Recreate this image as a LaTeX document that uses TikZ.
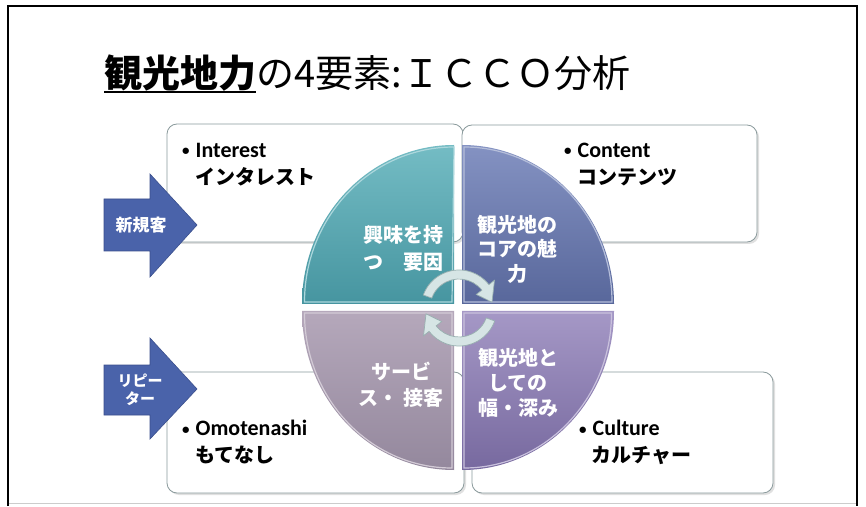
\documentclass[tikz,border=0pt]{standalone}
\usepackage{fontspec}
\setmainfont{Carlito}
\newfontfamily\jp{Noto Sans CJK JP}
\usetikzlibrary{calc}
\definecolor{arrowblue}{HTML}{4A63AA}
\definecolor{arrowedge}{HTML}{3A4F8C}
\definecolor{tealA}{HTML}{74BCC4}
\definecolor{tealB}{HTML}{4695A0}
\definecolor{blueA}{HTML}{8492C2}
\definecolor{blueB}{HTML}{58679B}
\definecolor{mauveA}{HTML}{B5A8BB}
\definecolor{mauveB}{HTML}{94889D}
\definecolor{purpA}{HTML}{A598C6}
\definecolor{purpB}{HTML}{77699F}
\definecolor{boxline}{HTML}{8A9A9C}
\definecolor{ringfill}{HTML}{D6E5E5}
\definecolor{ringline}{HTML}{98B0B0}
\newcommand{\blt}{\raisebox{1.5pt}{\fontsize{15}{15}\selectfont •}\hspace{6pt}}
\tikzset{
  infobox/.style={draw=boxline, fill=white, rounded corners=10pt, line width=0.8pt, inner sep=0pt},
  boxshadow/.style={fill=black!12, rounded corners=10pt},
  latintext/.style={font=\bfseries\fontsize{22}{26}\selectfont, inner sep=0pt, anchor=west},
  jptext/.style={font=\jp\bfseries\fontsize{20}{24}\selectfont, inner sep=0pt, anchor=west},
  qtext/.style={font=\jp\bfseries\fontsize{20}{25}\selectfont, text=white, align=center, inner sep=0pt},
  arrowlabel/.style={font=\jp\bfseries\fontsize{17}{19}\selectfont, text=white, align=center, inner sep=0pt},
  bigarrow/.style={fill=arrowblue, draw=arrowedge, line width=0.6pt},
  ringarrow/.style={fill=ringfill, draw=ringline, line width=0.7pt},
  quadedge/.style={line width=1.2pt},
}
\begin{document}
\begin{tikzpicture}[x=1pt,y=1pt]
\useasboundingbox (0,0) rectangle (866,506);
\fill[white] (0,0) rectangle (866,506);
% frame
\draw[black!20, line width=1pt] (8,3) -- (857,3);
\draw[line width=1.6pt] (8,0) -- (8,500) -- (857,500) -- (857,0);
% title
\node[font=\jp\bfseries\fontsize{38}{40}\selectfont, inner sep=0pt, anchor=base west] (t1) at (104,418) {観光地力};
\node[font=\jp\fontsize{38}{40}\selectfont, inner sep=0pt, anchor=base west] (t2) at (t1.base east) {の4要素:ＩＣＣＯ分析};
\draw[line width=2.6pt] ([yshift=-4pt]t1.base west) -- ([yshift=-4pt]t1.base east);
% shadows
\fill[boxshadow] (169,262) rectangle (465,380);
\fill[boxshadow] (464,262) rectangle (759,379);
\fill[boxshadow] (169,11) rectangle (466,132);
\fill[boxshadow] (474,11) rectangle (775,132);
% boxes
\node[infobox, minimum width=296pt, minimum height=118pt] (boxI) at (315,323) {};
\node[infobox, minimum width=295pt, minimum height=117pt] (boxC) at (609.5,322.5) {};
\node[infobox, minimum width=297pt, minimum height=121pt] (boxO) at (315.5,73.5) {};
\node[infobox, minimum width=301pt, minimum height=121pt] (boxCu) at (622.5,73.5) {};
% box texts
\node[latintext] (iL) at (182,356) {\blt Interest};
\node[jptext] (iJ) at (195,329) {インタレスト};
\node[latintext] (cL) at (564,356) {\blt Content};
\node[jptext] (cJ) at (577,329) {コンテンツ};
\node[latintext] (oL) at (182,78) {\blt Omotenashi};
\node[jptext] (oJ) at (195,51) {もてなし};
\node[latintext] (uL) at (579,78) {\blt Culture};
\node[jptext] (uJ) at (591,51) {カルチャー};
% side arrows
\draw[bigarrow] (104,307) -- (150,307) -- (150,332) -- (197,281) -- (150,229) -- (150,255) -- (104,255) -- cycle;
\node[arrowlabel] (new) at (141,281) {新規客};
\draw[bigarrow] (104,141) -- (150,141) -- (150,168) -- (197,117) -- (150,67) -- (150,91) -- (104,91) -- cycle;
\node[arrowlabel, font=\jp\bfseries\fontsize{15}{18}\selectfont] (rep) at (140,116) {リピー\\ター};
% quadrants
\shade[top color=tealA, bottom color=tealB] (454,202) -- (302,202) arc[start angle=180, end angle=90, x radius=152pt, y radius=159pt] -- cycle;
\draw[quadedge, tealA!60!white] (452,204) -- (304.5,204) arc[start angle=180, end angle=90, x radius=149.5pt, y radius=155pt] -- cycle;
\shade[top color=blueA, bottom color=blueB] (462,202) -- (462,361) arc[start angle=90, end angle=0, x radius=152pt, y radius=159pt] -- cycle;
\draw[quadedge, blueA!60!white] (464,204) -- (464,359) arc[start angle=90, end angle=0, x radius=148pt, y radius=155pt] -- cycle;
\shade[top color=mauveA, bottom color=mauveB] (454,195) -- (302,195) arc[start angle=180, end angle=270, x radius=152pt, y radius=159pt] -- cycle;
\draw[quadedge, mauveA!60!white] (452,193) -- (304.5,193) arc[start angle=180, end angle=270, x radius=147.5pt, y radius=155pt] -- cycle;
\shade[top color=purpA, bottom color=purpB] (462,195) -- (614,195) arc[start angle=0, end angle=-90, x radius=152pt, y radius=159pt] -- cycle;
\draw[quadedge, purpA!60!white] (464,193) -- (611.5,193) arc[start angle=0, end angle=-90, x radius=147.5pt, y radius=155pt] -- cycle;
% quadrant texts
\node[qtext, font=\jp\bfseries\fontsize{20}{27}\selectfont] (qI) at (403,257.5) {興味を持\\つ　要因};
\node[qtext, font=\jp\bfseries\fontsize{20}{24.5}\selectfont] (qC) at (517,257) {観光地の\\コアの魅\\力};
\node[qtext, font=\jp\bfseries\fontsize{20}{26}\selectfont] (qO) at (401,121) {サービ\\ス・ 接客};
\node[qtext, font=\jp\bfseries\fontsize{20}{25}\selectfont] (qCu) at (518,123) {観光地と\\しての\\幅・深み};
% cycle arrows
\coordinate (ringc) at (459,198);
\draw[ringarrow] ([shift={(160:38pt)}]ringc) arc[start angle=160, end angle=38, radius=38pt] -- ([shift={(38:45pt)}]ringc) -- ([shift={(10:33.5pt)}]ringc) -- ([shift={(38:22pt)}]ringc) -- ([shift={(38:29pt)}]ringc) arc[start angle=38, end angle=160, radius=29pt] -- cycle;
\draw[ringarrow] ([shift={(-20:38pt)}]ringc) arc[start angle=-20, end angle=-142, radius=38pt] -- ([shift={(-142:45pt)}]ringc) -- ([shift={(-170:33.5pt)}]ringc) -- ([shift={(-142:22pt)}]ringc) -- ([shift={(-142:29pt)}]ringc) arc[start angle=-142, end angle=-20, radius=29pt] -- cycle;
\end{tikzpicture}
\end{document}
